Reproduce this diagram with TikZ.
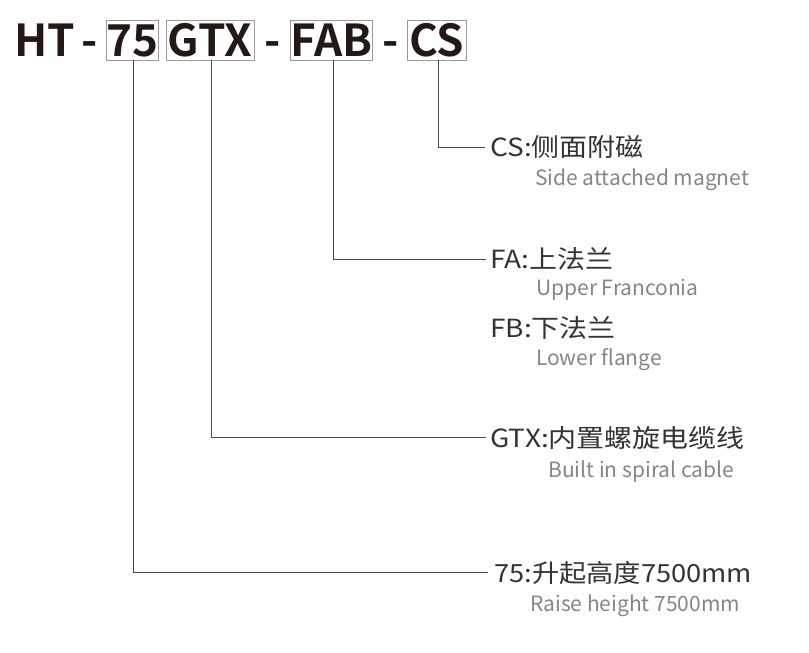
\documentclass[tikz,border=0pt]{standalone}
\usepackage{fontspec}
\setmainfont{Noto Sans CJK SC}
\newfontfamily\cjkb{Noto Sans CJK SC Bold}
\definecolor{headc}{HTML}{231815}
\definecolor{mainc}{HTML}{333333}
\definecolor{subc}{HTML}{858585}
\definecolor{linec}{HTML}{4A4A4A}
\newcommand\widetxt[1]{\scalebox{1.12}[1]{#1}}
\begin{document}
\begin{tikzpicture}[x=1pt,y=-1pt,
  head/.style={inner sep=0pt, text=headc, font=\cjkb\fontsize{44}{44}\selectfont, text height=32pt, text depth=0pt},
  codebox/.style={head, draw=gray!80, line width=0.8pt, minimum height=40pt},
  mainlbl/.style={anchor=base west, inner sep=0pt, text=mainc, font=\fontsize{25}{25}\selectfont},
  sublbl/.style={anchor=base west, inner sep=0pt, text=subc, font=\fontsize{21}{21}\selectfont},
  conn/.style={draw=linec, line width=0.9pt}]
\useasboundingbox (0,0) rectangle (809,653);
% header
\node[head, anchor=west] (ht) at (14,40) {HT};
\node[head] (d1) at (90,40) {-};
\node[codebox, minimum width=51pt] (b75) at (132.5,40) {75};
\node[codebox, minimum width=88pt] (bGTX) at (210,40) {GTX};
\node[head] (d2) at (273,40) {-};
\node[codebox, minimum width=81pt] (bFAB) at (331.5,40) {FAB};
\node[head] (d3) at (391,40) {-};
\node[codebox, minimum width=59pt] (bCS) at (436.5,40) {CS};
% connector ends
\coordinate (eCS) at (485,147);
\coordinate (eFA) at (486,259);
\coordinate (eGTX) at (486,437);
\coordinate (e75) at (488,572);
\draw[conn] (bCS.south -| 438,0) |- (eCS);
\draw[conn] (bFAB.south -| 333,0) |- (eFA);
\draw[conn] (bGTX.south -| 211,0) |- (eGTX);
\draw[conn] (b75.south -| 133,0) |- (e75);
% labels
\node[mainlbl] (tCS) at (490,156) {\widetxt{CS:侧面附磁}};
\node[sublbl] (sCS) at (535,185) {Side attached magnet};
\node[mainlbl] (tFA) at (490,268) {\widetxt{FA:上法兰}};
\node[sublbl] (sFA) at (536,295) {Upper Franconia};
\node[mainlbl] (tFB) at (490,337) {\widetxt{FB:下法兰}};
\node[sublbl] (sFB) at (536,365) {Lower flange};
\node[mainlbl] (tGTX) at (490,447) {\widetxt{GTX:内置螺旋电缆线}};
\node[sublbl] (sGTX) at (548,477) {Built in spiral cable};
\node[mainlbl] (t75) at (494,582) {\scalebox{1.09}[1]{75:升起高度7500mm}};
\node[sublbl] (s75) at (530,611) {Raise height 7500mm};
\end{tikzpicture}
\end{document}
